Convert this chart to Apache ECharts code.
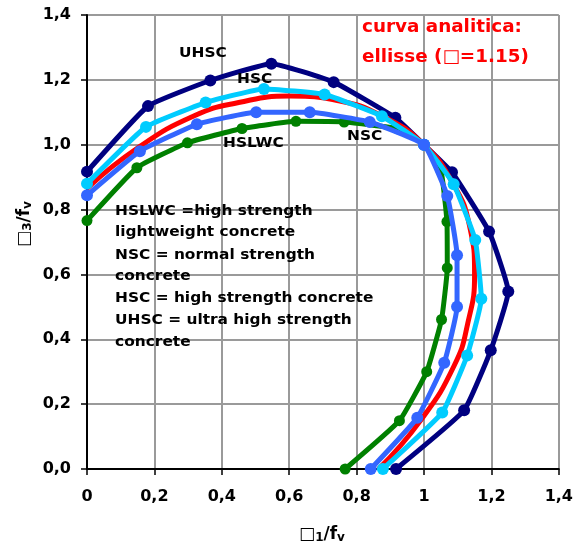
<!DOCTYPE html>
<html>
<head>
<meta charset="utf-8">
<script src="https://cdn.jsdelivr.net/npm/echarts@6/dist/echarts.min.js"></script>
<style>
  html, body { margin: 0; padding: 0; background: #fff; }
  #chart { width: 576px; height: 551px; }
</style>
</head>
<body>
<div id="chart"></div>
<script>
// Normalised failure envelopes (σ1/fv, σ3/fv) for four concrete types
const uhsc = [[0,0.917],[0.181,1.119],[0.366,1.198],[0.547,1.25],[0.732,1.193],[0.915,1.083],[1,1],
  [1.083,0.915],[1.193,0.732],[1.25,0.547],[1.198,0.366],[1.119,0.181],[0.917,0]];
const hsc = [[0,0.88],[0.175,1.055],[0.352,1.13],[0.525,1.172],[0.705,1.155],[0.875,1.088],[1,1],
  [1.088,0.878],[1.152,0.706],[1.17,0.525],[1.128,0.35],[1.054,0.174],[0.878,0]];
const nsc = [[0,0.844],[0.157,0.98],[0.326,1.063],[0.502,1.10],[0.661,1.10],[0.839,1.07],[1,1],
  [1.069,0.842],[1.098,0.659],[1.098,0.5],[1.06,0.328],[0.98,0.158],[0.842,0]];
const hslwc = [[0,0.766],[0.148,0.929],[0.298,1.006],[0.46,1.05],[0.62,1.072],[0.763,1.07],[0.922,1.049],[1,1],
  [1.05,0.921],[1.068,0.763],[1.069,0.62],[1.052,0.461],[1.008,0.3],[0.927,0.149],[0.766,0]];
// Analytical curve (ellipse)
const ellipse = [[0,0.865],[0.15,0.99],[0.32,1.09],[0.45,1.13],[0.6,1.15],[0.75,1.135],[0.88,1.086],[1,1],
  [1.086,0.88],[1.135,0.75],[1.15,0.6],[1.13,0.45],[1.09,0.32],[0.99,0.15],[0.865,0]];

const seriesNames = ['UHSC', 'HSC', 'NSC', 'HSLWC', 'ellisse'];
const notes = [
  'HSLWC =high strength',
  'lightweight concrete',
  'NSC = normal strength',
  'concrete',
  'HSC = high strength concrete',
  'UHSC = ultra high strength',
  'concrete'
];
const curveTitle = ['curva analitica:', 'ellisse (\u25A1=1.15)'];

const FONT = 'DejaVu Sans';
const fmt = v => String(Math.round(v * 10) / 10).replace('.', ',');

function markerSeries(name, data, color, z, size) {
  return {
    name, type: 'line', data, z, clip: false, smooth: 0.12,
    symbol: 'circle', symbolSize: size,
    lineStyle: { color, width: 5 },
    itemStyle: { color },
    emphasis: { disabled: true },
    animation: false
  };
}

function labelText(text, x, y, opts) {
  opts = opts || {};
  return {
    type: 'text', x, y, scaleX: opts.sx || 1.1, z: 100,
    style: {
      text, x: 0, y: 0,
      fill: opts.color || '#000',
      font: 'bold ' + (opts.size || 14) + 'px "' + FONT + '"',
      align: 'left', verticalAlign: 'middle'
    }
  };
}

const chart = echarts.init(document.getElementById('chart'), null, { renderer: 'canvas' });

const graphics = [
  labelText('UHSC', 179, 53),
  labelText('HSC', 237, 79),
  labelText('HSLWC', 223, 143),
  labelText('NSC', 347, 136),
  labelText(curveTitle[0], 362, 27, { color: '#FF0000', size: 18, sx: 1.02 }),
  labelText(curveTitle[1], 362, 57, { color: '#FF0000', size: 18, sx: 1.02 })
];
const noteY = [211, 232.5, 255, 276.5, 298, 320.5, 342];
notes.forEach((t, i) => graphics.push(labelText(t, 115, noteY[i])));

const rich = {
  a: { fontFamily: FONT, fontWeight: 'bold', fontSize: 17, fill: '#000', color: '#000' },
  s: { fontFamily: FONT, fontWeight: 'bold', fontSize: 12, color: '#000', verticalAlign: 'bottom', padding: [6, 0, 0, 0] }
};
graphics.push({
  type: 'text', x: 322, y: 535, z: 100,
  style: { text: '{a|\u25A1}{s|1}{a|/f}{s|v}', rich, align: 'center', verticalAlign: 'middle' }
});
graphics.push({
  type: 'text', x: 25, y: 224, rotation: Math.PI / 2, z: 100,
  style: { text: '{a|\u25A1}{s|3}{a|/f}{s|v}', rich, align: 'center', verticalAlign: 'middle' }
});

const axisCommon = {
  type: 'value', min: 0, max: 1.4, interval: 0.2,
  axisLine: { show: true, onZero: false, lineStyle: { color: '#000', width: 2 } },
  axisTick: { show: true, inside: false, length: 6, lineStyle: { color: '#000', width: 1.5 } },
  splitLine: { show: true, lineStyle: { color: '#9a9a9a', width: 2 } }
};

chart.setOption({
  animation: false,
  backgroundColor: '#fff',
  grid: { left: 87, right: 17, top: 15, bottom: 82, containLabel: false },
  xAxis: Object.assign({}, axisCommon, {
    axisLabel: { formatter: fmt, color: '#000', fontFamily: FONT, fontWeight: 'bold', fontSize: 16, margin: 20 }
  }),
  yAxis: Object.assign({}, axisCommon, {
    axisLabel: { formatter: v => v.toFixed(1).replace('.', ','), color: '#000', fontFamily: FONT, fontWeight: 'bold', fontSize: 16, margin: 16 }
  }),
  series: [
    markerSeries(seriesNames[0], uhsc, '#000080', 2, 12),
    markerSeries(seriesNames[3], hslwc, '#008000', 3, 11),
    {
      name: seriesNames[4], type: 'line', data: ellipse, z: 4, smooth: 0.5, clip: false,
      symbol: 'none', lineStyle: { color: '#FF0000', width: 5 }, emphasis: { disabled: true }
    },
    markerSeries(seriesNames[1], hsc, '#00CCFF', 5, 12),
    markerSeries(seriesNames[2], nsc, '#3366FF', 6, 12)
  ],
  graphic: graphics
});
</script>
</body>
</html>
